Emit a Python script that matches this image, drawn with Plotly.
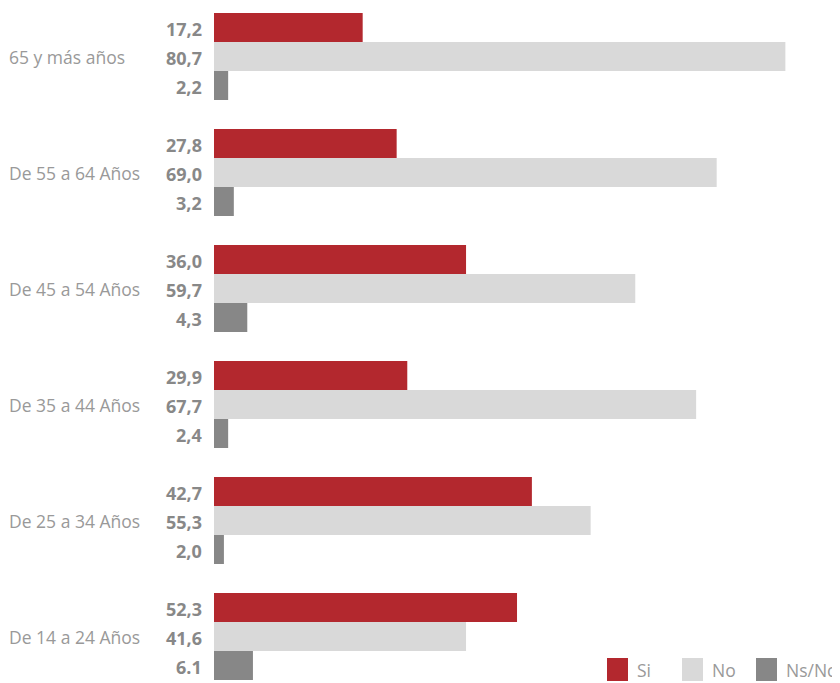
import plotly.graph_objects as go

# Categories (bottom to top)
categories = ["De 14 a 24 Años", "De 25 a 34 Años", "De 35 a 44 Años",
              "De 45 a 54 Años", "De 55 a 64 Años", "65 y más años"]

# Bar lengths as drawn in the picture (percent scale)
si_values = [42.8, 44.9, 27.3, 35.6, 25.8, 21.0]
no_values = [35.6, 53.2, 68.1, 59.5, 71.0, 80.7]
ns_values = [5.5, 1.4, 2.0, 4.7, 2.8, 2.0]

# Value labels as printed on the chart
si_labels = ["52,3", "42,7", "29,9", "36,0", "27,8", "17,2"]
no_labels = ["41,6", "55,3", "67,7", "59,7", "69,0", "80,7"]
ns_labels = ["6.1", "2,0", "2,4", "4,3", "3,2", "2,2"]

series_names = ["Si", "No", "Ns/Nc"]
colors = {"Si": "#B3282E", "No": "#D9D9D9", "Ns/Nc": "#878787"}

FONT = "Open Sans"
OFF = 8  # page body margin
W, H = 840 - OFF, 683 - OFF
ML = 214 - OFF
PW = W - ML
PX_PER_UNIT = 7.08
BAND = 116  # px per category

fig = go.Figure()
# horizontal grouped bars: first trace drawn lowest in each group
for name, vals in [("Ns/Nc", ns_values), ("No", no_values), ("Si", si_values)]:
    fig.add_trace(go.Bar(
        y=categories, x=vals, orientation="h", name=name,
        marker=dict(color=colors[name], line=dict(width=0)),
        hoverinfo="x+y+name", showlegend=False,
    ))

annotations = []
bar_px = BAND * 0.25
for labels, shift in [(si_labels, bar_px), (no_labels, 0), (ns_labels, -bar_px)]:
    for cat, lab in zip(categories, labels):
        annotations.append(dict(
            x=0, y=cat, xref="x", yref="y", text=f"<b>{lab}</b>",
            showarrow=False, xanchor="right", yanchor="middle",
            xshift=-10, yshift=shift - 1,
            font=dict(family=FONT, size=18, color="#888888"),
        ))
for cat in categories:
    annotations.append(dict(
        x=0, y=cat, xref="x", yref="y", text=cat,
        showarrow=False, xanchor="left", yanchor="middle",
        xshift=-207, yshift=0,
        font=dict(family=FONT, size=17.5, color="#999999"),
    ))

# Legend drawn at bottom right (screen pixel positions)
shapes = []
legend_items = [("Si", 607), ("No", 682), ("Ns/Nc", 756)]
for name, px in legend_items:
    sx = px - OFF
    shapes.append(dict(type="rect", xref="paper", yref="paper",
                       x0=(sx - ML) / PW, x1=(sx + 21 - ML) / PW,
                       y0=1 - (681 - OFF) / H, y1=1 - (658 - OFF) / H,
                       fillcolor=colors[name], line=dict(width=0)))
    annotations.append(dict(
        x=(sx + 28 - ML) / PW, y=1 - (669.5 - OFF) / H, xref="paper", yref="paper",
        text=name, showarrow=False, xanchor="left", yanchor="middle",
        font=dict(family=FONT, size=17.5, color="#999999"),
    ))

top_idx = len(categories) - 1
fig.update_layout(
    width=W, height=H,
    margin=dict(l=ML, r=0, t=0, b=0),
    paper_bgcolor="white", plot_bgcolor="white",
    barmode="group", bargap=0.25, bargroupgap=0,
    xaxis=dict(range=[0, PW / PX_PER_UNIT], visible=False, fixedrange=True),
    yaxis=dict(type="category", categoryorder="array", categoryarray=categories,
               range=[-46.5 / BAND, top_idx + (56.5 - OFF) / BAND],
               showticklabels=False, showgrid=False, zeroline=False,
               showline=False, ticks=""),
    annotations=annotations, shapes=shapes, showlegend=False,
    font=dict(family=FONT),
)

fig.write_html("out.html")
